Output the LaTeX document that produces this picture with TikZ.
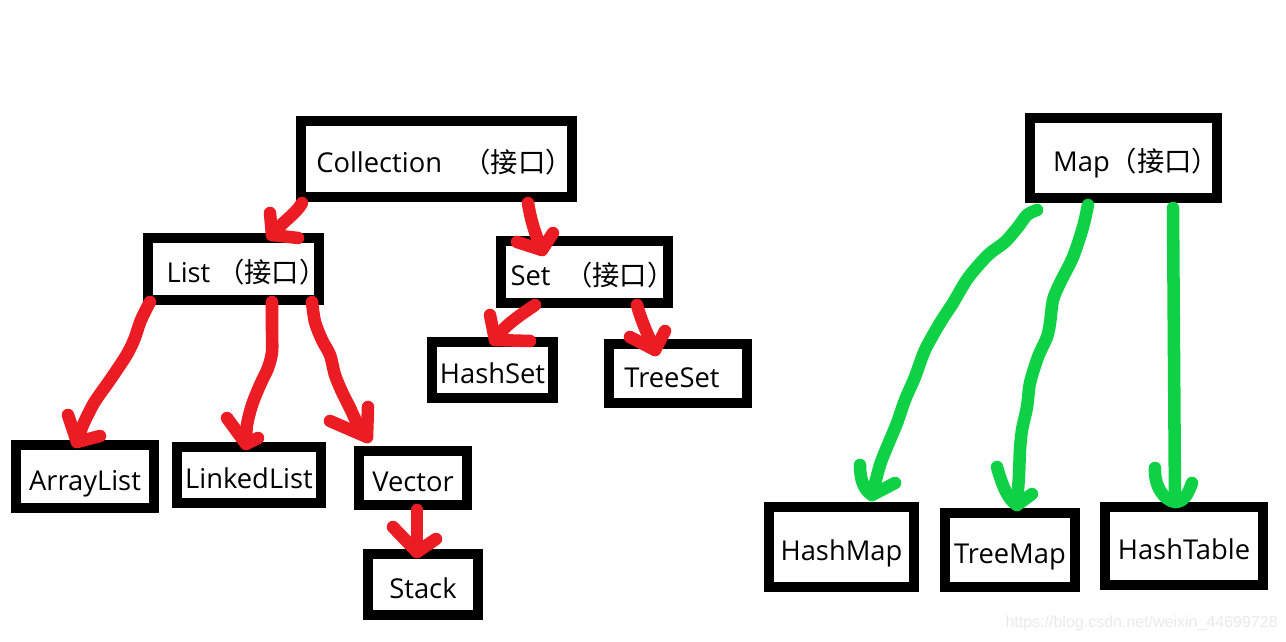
\documentclass[tikz,border=0pt]{standalone}
\usepackage{fontspec}
\setmainfont{Open Sans}
\newfontfamily\cjk{Noto Sans CJK SC}
\newfontfamily\wmfont{Liberation Sans}
\newcommand\jiekou{{\cjk （接口）}\kern-12pt}
\definecolor{penred}{RGB}{236,28,36}
\definecolor{pengreen}{RGB}{14,209,69}
\definecolor{wmgray}{RGB}{234,234,234}
\begin{document}
\begin{tikzpicture}[x=0.75pt,y=-0.75pt,
  box/.style 2 args={draw=black, line width=7.5pt, inner sep=0pt, outer sep=0pt, fill=white,
    minimum width=#1*0.75pt, minimum height=#2*0.75pt,
    font=\fontsize{20.5pt}{24pt}\selectfont, text height=20.5pt, text depth=0pt},
  redstroke/.style={draw=penred, line width=9.4pt, line cap=round, line join=round},
  greenstroke/.style={draw=pengreen, line width=9.4pt, line cap=round, line join=round}]
\useasboundingbox (0,0) rectangle (1286,642);
\fill[white] (0,0) rectangle (1286,642);
% boxes
\node[box={271}{76}] (coll) at (436.5,159) {Collection\hspace{16pt}\jiekou};
\node[box={171}{62}] (list) at (233.5,269) {\hspace{7.5pt}List\hspace{5pt}\jiekou};
\node[box={167}{62}] (set) at (584.5,272) {Set\hspace{11pt}\jiekou};
\node[box={121}{56}] (hashset) at (492.5,370) {HashSet};
\node[box={138}{59}] (treeset) at (678,373.5) {\hspace{-9pt}TreeSet};
\node[box={138}{63}] (arraylist) at (85,476.5) {ArrayList};
\node[box={144}{56}] (linkedlist) at (249,475) {LinkedList};
\node[box={108}{54}] (vector) at (413,478) {Vector};
\node[box={110}{61}] (stack) at (423,584.5) {Stack};
\node[box={187}{80}] (map) at (1123.5,158) {\hspace{7pt}Map\jiekou};
\node[box={145}{80}] (hashmap) at (841.5,547) {HashMap};
\node[box={130}{74}] (treemap) at (1010,550) {TreeMap};
\node[box={158}{78}] (hashtable) at (1184,546) {HashTable};
% red arrows
\draw[redstroke] ([shift={(1,6)}]coll.south west) .. controls (296,214) and (282,222) .. ([shift={(124,-3)}]list.north west);
\draw[redstroke] (270,213) -- ([shift={(124,-3)}]list.north west) -- (298,238);
\draw[redstroke] ([shift={(-44,6)}]coll.south east) .. controls (531,222) and (536,236) .. ([shift={(41,9)}]set.north west);
\draw[redstroke] (517,242) -- ([shift={(41,9)}]set.north west) -- (553,233);
\draw[redstroke] plot[smooth, tension=0.5] coordinates {([shift={(2,2)}]list.south west) (141,320) (134,340) (126,356) (110,380) (94,403) (83,425) ([shift={(61,-3)}]arraylist.north west)};
\draw[redstroke] (68,415) -- ([shift={(61,-3)}]arraylist.north west) -- (100,436);
\draw[redstroke] plot[smooth, tension=0.5] coordinates {([shift={(124,2)}]list.south west) (272,330) (272,352) (268,368) (260,385) (252,405) (247,425) ([shift={(69,-3)}]linkedlist.north west)};
\draw[redstroke] (227,418) -- ([shift={(69,-3)}]linkedlist.north west) -- (258,438);
\draw[redstroke] plot[smooth, tension=0.5] coordinates {([shift={(-7,2)}]list.south east) (315,322) (322,340) (330,355) (335,375) (342,392) (350,408) (358,425) ([shift={(8,-14)}]vector.north west)};
\draw[redstroke] (368,407) -- ([shift={(8,-14)}]vector.north west) -- (330,421);
\draw[redstroke] ([shift={(58,5)}]vector.south west) -- ([shift={(49,-2)}]stack.north west);
\draw[redstroke] (393,527) -- ([shift={(49,-2)}]stack.north west) -- (436,539);
\draw[redstroke] ([shift={(34,2)}]set.south west) .. controls (522,314) and (503,326) .. ([shift={(63,-2)}]hashset.north west);
\draw[redstroke] (490,315) -- ([shift={(63,-2)}]hashset.north west) -- (530,341);
\draw[redstroke] ([shift={(-31,2)}]set.south east) .. controls (641,320) and (648,336) .. ([shift={(46,6)}]treeset.north west);
\draw[redstroke] (630,337) -- ([shift={(46,6)}]treeset.north west) -- (665,331);
% green arrows
\draw[greenstroke] plot[smooth, tension=0.5] coordinates {([shift={(7,12)}]map.south west) (1027,215) (1018,227) (1005,242) (988,255) (968,278) (953,303) (940,323) (925,350) (915,377) (905,400) (897,423) (887,447) (880,465) ([shift={(103,-12)}]hashmap.north west)};
\draw[greenstroke] (860,465) .. controls (860,480) and (864,490) .. ([shift={(103,-12)}]hashmap.north west) -- (895,483);
\draw[greenstroke] plot[smooth, tension=0.5] coordinates {([shift={(58,7)}]map.south west) (1083,227) (1073,257) (1060,283) (1053,300) (1050,323) (1047,337) (1038,357) (1030,383) (1027,407) (1022,430) (1020,450) (1019,475) ([shift={(72,-8)}]treemap.north west)};
\draw[greenstroke] (997,467) .. controls (1002,485) and (1008,500) .. ([shift={(72,-8)}]treemap.north west) -- (1032,494);
\draw[greenstroke] ([shift={(-44,10)}]map.south east) -- ([shift={(70,-5)}]hashtable.north west);
\draw[greenstroke] (1155,468) .. controls (1154,485) and (1163,500) .. ([shift={(70,-5)}]hashtable.north west) .. controls (1184,502) and (1188,494) .. (1192,483);
% watermark
\node[anchor=east, inner sep=0pt, text=wmgray, font=\wmfont\fontsize{12pt}{14pt}\selectfont] (wm) at (1278,623) {https://blog.csdn.net/weixin\_44699728};
\end{tikzpicture}
\end{document}
